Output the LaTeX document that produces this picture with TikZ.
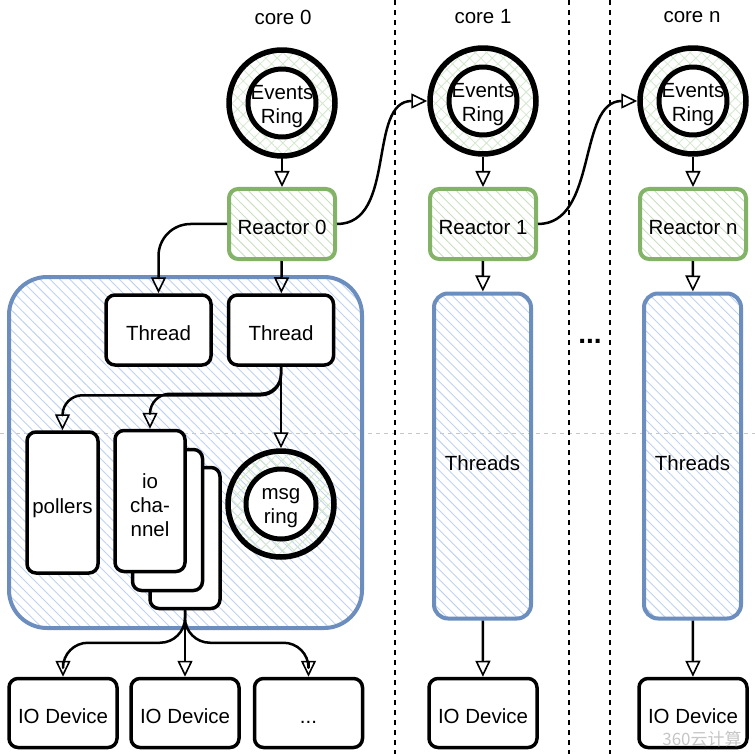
\documentclass[tikz,border=0pt]{standalone}
\usepackage{fontspec}
\setmainfont{Liberation Sans}
\newfontfamily\cjkfont{Noto Sans CJK SC}
\usetikzlibrary{arrows.meta,patterns.meta}
\definecolor{reactorgreen}{HTML}{82B366}
\definecolor{greenhatch}{HTML}{C9E0BF}
\definecolor{ringhatch}{HTML}{D3E7CC}
\definecolor{threadblue}{HTML}{6C8EBF}
\definecolor{bluehatch}{HTML}{BFD2F2}

\begin{document}
\begin{tikzpicture}[x=1pt,y=-1pt, line join=round,
font=\fontsize{20.5}{24}\selectfont,
lowtext/.style={text height=21pt, text depth=0pt},
box/.style={draw, line width=3.5pt, rounded corners=9pt, fill=white,
  minimum width=106pt, minimum height=70pt, align=center, inner sep=0pt},
reactor/.style={draw=reactorgreen, line width=4pt, rounded corners=9pt,
  pattern={Lines[angle=-45,distance=7pt,line width=0.9pt]}, pattern color=greenhatch,
  minimum width=106pt, minimum height=70pt, lowtext},
threads/.style={draw=threadblue, line width=4pt, rounded corners=14pt,
  pattern={Lines[angle=-45,distance=7pt,line width=0.9pt]}, pattern color=bluehatch,
  minimum width=97pt, minimum height=325pt},
ring/.style={circle, draw, line width=5.5pt,
  pattern={Hatch[angle=45,distance=8pt,line width=0.8pt]}, pattern color=ringhatch,
  minimum size=#1},
ringin/.style={circle, draw, line width=5pt, fill=white, minimum size=#1, inner sep=0pt},
ringtext/.style={label={[yshift=-4pt, align=center]center:#1}},
arr/.style={line width=2.5pt, -{Triangle[open,length=16pt,width=15pt,line width=1.6pt]}},
coresep/.style={line width=1.5pt, dash pattern=on 5pt off 5pt}]
\useasboundingbox (0,0) rectangle (755,754);

% separators
\draw[gray!45, line width=0.8pt, dash pattern=on 4pt off 4pt] (0,433) -- (755,433);
\draw[coresep] (395,0) -- (395,754);
\draw[coresep] (569,0) -- (569,754);
\draw[coresep] (610,0) -- (610,754);

\node (c0) at (283,17) {core 0};
\node (c1) at (483,17) {core 1};
\node (cn) at (692,17) {core n};
\node[font=\fontsize{28}{30}\selectfont\bfseries] (dots) at (590,341) {...};

% core 0
\node[threads, rounded corners=38pt, minimum width=353pt, minimum height=351pt] (grp) at (185.5,452.5) {};
\node[ring=106pt] (er0) at (282,103) {};
\node[ringin=68pt, ringtext={Events\\Ring}] (er0t) at (er0) {};
\node[reactor] (r0) at (282,224) {Reactor 0};
\node[box, lowtext, minimum width=105pt] (t1) at (158.5,330) {Thread};
\node[box, lowtext, minimum width=105pt] (t2) at (281,330) {Thread};
\node[box, lowtext, minimum width=71pt, minimum height=141pt] (pollers) at (62.5,502.5) {pollers};
\node[box, minimum width=70pt, minimum height=141pt] (io3) at (185,538) {};
\node[box, minimum width=70pt, minimum height=141pt] (io2) at (167.5,520) {};
\node[box, minimum width=70pt, minimum height=141pt, ringtext={io\\cha-\\nnel}] (io) at (150,501) {};
\node[ring=106pt] (mr) at (281,504) {};
\node[ringin=70pt, ringtext={msg\\ring}] (mrt) at (mr) {};
\node[box, lowtext, minimum width=108pt, minimum height=69pt] (d1) at (63,713) {IO Device};
\node[box, lowtext, minimum width=108pt, minimum height=69pt] (d2) at (185,713) {IO Device};
\node[box, lowtext, minimum width=108pt, minimum height=69pt] (d3) at (308.5,713) {...};

% core 1
\node[ring=106pt] (er1) at (483,101) {};
\node[ringin=68pt, ringtext={Events\\Ring}] (er1t) at (er1) {};
\node[reactor] (r1) at (483,224) {Reactor 1};
\node[threads, text height=29pt, text depth=0pt] (th1) at (482.5,456) {Threads};
\node[box, lowtext, minimum width=108pt, minimum height=69pt] (d4) at (483,713) {IO Device};

% core n
\node[ring=106pt] (ern) at (693,101) {};
\node[ringin=68pt, ringtext={Events\\Ring}] (ernt) at (ern) {};
\node[reactor] (rn) at (693,224) {Reactor n};
\node[threads, text height=29pt, text depth=0pt] (thn) at (692.5,456) {Threads};
\node[box, lowtext, minimum width=108pt, minimum height=69pt] (d5) at (693,713) {IO Device};

\node[text=gray!45, font=\cjkfont\fontsize{17}{20}\selectfont] (wm) at (702,739) {360云计算};

\draw[arr] (er0) -- (r0);
\draw[arr] (er1) -- (r1);
\draw[arr] (ern) -- (rn);
\draw[arr] (r0) -- (t2);
\draw[arr, rounded corners=32pt] (r0.west) -| (t1.north);
\draw[arr] (r0.east) .. controls +(60,0) and +(-60,0) .. (er1.west);
\draw[arr] (r1.east) .. controls +(60,0) and +(-60,0) .. (ern.west);
\draw[arr] (r1) -- (th1);
\draw[arr] (rn) -- (thn);
\draw[arr] (th1) -- (d4);
\draw[arr] (thn) -- (d5);

\draw[arr, rounded corners=20pt] (t2.south) |- ([yshift=35pt]pollers.north) -- (pollers.north);
\draw[arr, rounded corners=20pt] (t2.south) |- ([yshift=35pt]io.north) -- (io.north);
\draw[arr] (t2) -- (mr);

\draw[arr, rounded corners=25pt] (io3.south) |- ([yshift=34pt]d1.north) -- (d1.north);
\draw[arr] (io3) -- (d2);
\draw[arr, rounded corners=25pt] (io3.south) |- ([yshift=34pt]d3.north) -- (d3.north);
\end{tikzpicture}
\end{document}
